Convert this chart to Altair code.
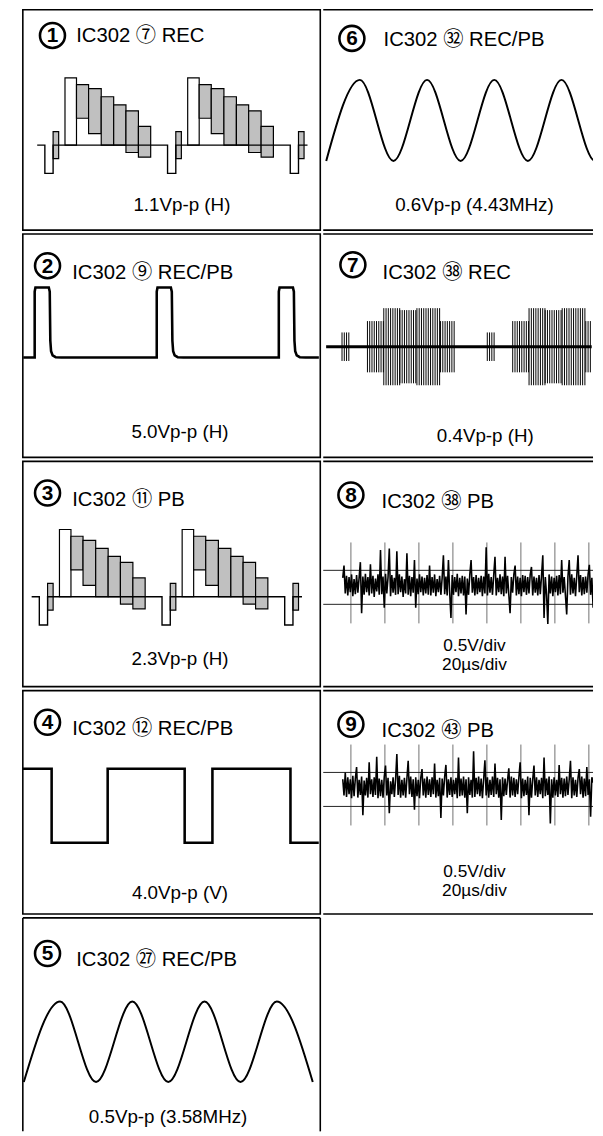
import altair as alt
import numpy as np
import pandas as pd

FONT = "Liberation Sans, Arial, Noto Sans CJK JP, DejaVu Sans"
STIPPLE = "#c0c0c0"

# ---------------- data ----------------
# Panels 1 and 3: colour-bar line signal (time in µs, level in IRE)
cb_line_starts = [0, 64, 128]
cb_picture_lines = [0, 64]
cb_sync_end = 4.3
cb_sync_level = -42
cb_burst_end = 7.2
cb_burst_level = 20
cb_white_start, cb_white_end, cb_white_level = 10.5, 16.5, 100
cb_bar_edges = [16.5, 22.8, 29.4, 35.9, 42.3, 48.8, 55.2]
cb_bar_top = [90, 84, 72, 60, 51, 28]
cb_bar_bottom = [40, 17, 0, 0, -11, -18]
cb_trace = [-4.0, 137.0]

# Panel 2: H-rate pulse (µs, V)
hp_starts = [0, 64, 128]
hp_shape_t = [0, 0, 0.4, 7.4, 7.9, 8.2, 8.6, 9.4, 11.0, 14.0]
hp_shape_v = [0, 4.7, 5.0, 5.0, 4.7, 1.2, 0.45, 0.15, 0.03, 0]
hp_trace = [-6.0, 149.0]

# Panel 4: V-rate square wave (ms, V)
vs_t = [0, 5.5, 5.5, 16.2, 16.2, 30.9, 30.9, 36.2, 36.2, 51.1, 51.1, 56.5]
vs_v = [4, 4, 0, 0, 4, 4, 0, 0, 4, 4, 0, 0]

# Panel 5: 3.58 MHz sine, extremes (ns, V)
s5_t = [0, 140, 279, 419, 558, 698, 837, 977, 1116]
s5_v = [-0.25, 0.25, -0.25, 0.25, -0.25, 0.25, -0.25, 0.25, -0.25]

# Panel 6: 4.43 MHz sine, extremes (ns, V)
s6_t = [0, 113, 226, 339, 452, 565, 678, 791, 904, 1017]
s6_v = [-0.3, 0.3, -0.3, 0.3, -0.3, 0.3, -0.3, 0.3, -0.3, 0.3]

# Panel 7: chroma bursts (µs, V)
b7_line_starts = [0, 64]
b7_seg_start = [0.0, 11.2, 18.4, 25.5, 33.0, 43.4]
b7_seg_end = [3.2, 18.4, 25.5, 33.0, 43.4, 50.4]
b7_seg_amp = [0.074, 0.133, 0.2, 0.19, 0.2, 0.133]
b7_cycle = 1.0
b7_trace = [-7.0, 110.0]

# Panels 8 and 9: noise on 0.5 V/div, 20 µs/div graticule
grid_t = [0, 20, 40, 60, 80, 100, 120, 140]
grid_top, grid_bottom = 0.66, -0.53
ref_levels = [0.25, -0.25]
n8_span = [-4.8, 142.5]
n8_mv = [140, 320, -90, 170, -120, 150, -70, 190, -130, 120,
         -100, 180, -80, 140, 370, -380, 160, -110, 200, -70,
         150, -120, 340, -90, 170, -140, 130, -60, 190, -110,
         550, -100, 160, -300, 200, -90, 150, 570, -130, 180,
         -80, 140, -110, 530, -100, 190, -70, 160, -140, 120,
         -90, 500, -110, 170, -130, 150, -80, 400, -300, 130,
         -100, 190, -70, 160, -120, 140, -90, 180, -110, 320,
         -120, 150, -80, 190, -130, 120, -70, 170, -110, 140,
         470, -100, 160, -120, 400, -80, -450, 180, -110, 150,
         -70, 200, -130, 140, -90, 170, -120, 160, -400, 130,
         -110, 190, 400, -80, 150, -120, 180, -100, 140, -70,
         170, -130, 160, -90, 590, -120, 200, -80, 150, -110,
         180, 450, -120, 140, -70, 190, -100, 160, -130, 450,
         -90, 170, -110, -380, 150, -80, 190, 320, -120, 160,
         -100, 140, -130, 180, -70, 170, -110, 150, -90, 190,
         300, -120, 160, -80, 140, -120, 180, -100, 170, 470,
         -450, 150, -110, -540, 190, -90, 160, -130, 140, -70,
         170, -120, 180, -100, 400, -80, 150, -120, -400, 160,
         400, -110, 190, -90, 140, -130, 170, 470, -70, 180,
         -120, 150, -100, 160, -80, 190, 330, -110, 140, -300]
n9_span = [-4.8, 142.5]
n9_mv = [150, -90, 250, -110, 180, -70, 150, -130, 200, -100,
         160, 330, -120, 140, -80, 190, -380, 130, -90, 170,
         -120, 400, -70, 150, -110, 180, -80, 480, -130, 160,
         -100, 140, -120, 190, 350, -90, 170, -350, 120, -70,
         180, -110, 150, 520, -80, 200, -120, 140, -90, 170,
         -120, 160, 420, -70, 190, -110, 150, -300, 180, -100,
         140, -130, 170, 300, -90, 160, -120, 190, -80, 150,
         -110, 180, -70, 380, -120, 140, -100, 170, -420, 160,
         -90, 190, 360, -120, 150, -80, 180, -110, 140, -70,
         170, -130, 470, -100, 160, -90, 190, -120, 150, -350,
         180, -80, 140, -120, 560, -110, 170, -70, 190, -100,
         160, -130, 150, 430, -90, 180, -120, 140, -80, 190,
         -110, 380, -70, 170, -120, 150, -450, 180, -100, 160,
         -80, 140, 310, -120, 190, -90, 170, -110, 150, -70,
         180, 400, -130, 160, -100, 140, -80, 190, -380, 170,
         -120, 150, 350, -90, 180, -110, 140, -70, 170, -130,
         470, -100, 160, -80, 190, -500, 150, -120, 180, -90,
         140, -110, 360, -70, 170, -120, 160, -100, 190, -80,
         150, 420, -130, 180, -90, 140, -110, 170, 300, -70,
         190, -120, 160, -100, 330, -80, 150, -400, 180, 100]

# ---------------- layout ----------------
LX, RX = 21, 322
LW, RW = 301, 273
TOPS = [9, 232, 458, 686, 912]
HS = [223, 226, 228, 226, 216]
BORDER = 1.6


def lin(lo, hi):
    return alt.Scale(domain=[lo, hi], nice=False, zero=False)


def xscale(t0_abs, k, left, W):
    return lin((left - t0_abs) / k, (left + W - t0_abs) / k)


def yscale(y0_abs, k, top, H):
    return lin((y0_abs - top - H) / k, (y0_abs - top) / k)


ONE = pd.DataFrame({"k": [0]})


def header(left, top, num, label, cxy, txy):
    cx, cy = cxy[0] - left, cxy[1] - top
    tx, ty = txy[0] - left, txy[1] - top
    ring = alt.Chart(ONE).mark_point(shape="circle", filled=False, size=640, stroke="black",
                                     strokeWidth=2.6, opacity=1).encode(x=alt.value(cx), y=alt.value(cy))
    digit = alt.Chart(ONE).mark_text(text=num, font=FONT, fontSize=21, fontWeight="bold", align="center",
                                     baseline="middle", color="black").encode(x=alt.value(cx), y=alt.value(cy + 1))
    title = alt.Chart(ONE).mark_text(text=label, font=FONT, fontSize=20.5, align="left", baseline="alphabetic",
                                     color="black").encode(x=alt.value(tx), y=alt.value(ty))
    return [ring, digit, title]


def caption(left, top, text, cx_abs, base_abs, size=19):
    return alt.Chart(ONE).mark_text(text=text, font=FONT, fontSize=size, align="center", baseline="alphabetic",
                                    color="black").encode(x=alt.value(cx_abs - left), y=alt.value(base_abs - top))


def hrule(y, W):
    return alt.Chart(ONE).mark_rule(color="black", strokeWidth=BORDER).encode(
        x=alt.value(0), x2=alt.value(W), y=alt.value(y))


def vrule(x, H):
    return alt.Chart(ONE).mark_rule(color="black", strokeWidth=BORDER).encode(
        x=alt.value(x), y=alt.value(0), y2=alt.value(H))


def frame_full(layers, H):
    return alt.layer(*layers).properties(
        width=LW, height=H,
        view=alt.ViewBackground(stroke="black", strokeWidth=BORDER, fill="white"))


def frame_right(layers, H):
    # right column runs off the page: only top and bottom edges are visible
    return alt.layer(*(layers + [hrule(0, RW), hrule(H, RW)])).properties(
        width=RW, height=H,
        view=alt.ViewBackground(stroke="transparent", fill="white"))


def frame_open_bottom(layers, H):
    return alt.layer(*(layers + [hrule(0, LW), vrule(0, H), vrule(LW, H)])).properties(
        width=LW, height=H,
        view=alt.ViewBackground(stroke="transparent", fill="white"))


def path_layer(df, xs, ys, width):
    return alt.Chart(df).mark_line(color="black", strokeWidth=width, clip=True, strokeJoin="miter").encode(
        x=alt.X("x:Q", scale=xs, axis=None), y=alt.Y("y:Q", scale=ys, axis=None), order="i:Q")


# ---------- panel builders ----------
def colour_bar_layers(left, top, H, t0_abs, base_abs):
    xs = xscale(t0_abs, 1.94, left, LW)
    ys = yscale(base_abs, 0.68, top, H)
    pts = [(cb_trace[0], 0)]
    for s in cb_line_starts:
        pts += [(s, 0), (s, cb_sync_level), (s + cb_sync_end, cb_sync_level), (s + cb_sync_end, 0)]
    pts.append((cb_trace[1], 0))
    trace = pd.DataFrame({"x": [p[0] for p in pts], "y": [p[1] for p in pts], "i": range(len(pts))})
    rects = []
    for s in cb_line_starts:
        rects.append((s + cb_sync_end, s + cb_burst_end, -cb_burst_level, cb_burst_level, "s"))
    for s in cb_picture_lines:
        rects.append((s + cb_white_start, s + cb_white_end, 0, cb_white_level, "w"))
        for j in range(len(cb_bar_top)):
            rects.append((s + cb_bar_edges[j], s + cb_bar_edges[j + 1], cb_bar_bottom[j], cb_bar_top[j], "s"))
    rdf = pd.DataFrame(rects, columns=["x", "x2", "y", "y2", "kind"])
    boxes = alt.Chart(rdf).mark_rect(stroke="black", strokeWidth=1.2, clip=True).encode(
        x=alt.X("x:Q", scale=xs, axis=None), x2="x2:Q",
        y=alt.Y("y:Q", scale=ys, axis=None), y2="y2:Q",
        fill=alt.Fill("kind:N", scale=alt.Scale(domain=["s", "w"], range=[STIPPLE, "white"]), legend=None))
    return [boxes, path_layer(trace, xs, ys, 1.4)]


def pulse_layers(left, top, H):
    xs = xscale(33, 1.93, left, LW)
    ys = yscale(357, 14.2, top, H)
    pts = [(hp_trace[0], 0)]
    for s in hp_starts:
        pts += [(s + t, v) for t, v in zip(hp_shape_t, hp_shape_v)]
    pts.append((hp_trace[1], 0))
    df = pd.DataFrame({"x": [p[0] for p in pts], "y": [p[1] for p in pts], "i": range(len(pts))})
    return [path_layer(df, xs, ys, 2.6)]


def square_layers(left, top, H):
    xs = xscale(21, 5.3, left, LW)
    ys = yscale(840, 18.75, top, H)
    df = pd.DataFrame({"x": vs_t, "y": vs_v, "i": range(len(vs_t))})
    return [path_layer(df, xs, ys, 2.6)]


def sine_layer(ts, vs, xs, ys):
    df = pd.DataFrame({"x": ts, "y": vs})
    return alt.Chart(df).mark_line(color="black", strokeWidth=2.0, interpolate="monotone", clip=True).encode(
        x=alt.X("x:Q", scale=xs, axis=None), y=alt.Y("y:Q", scale=ys, axis=None))


def burst_layers(left, top, H):
    xs = xscale(341, 2.297, left, RW)
    ys = yscale(346, 195, top, H)
    rows = []
    for s in b7_line_starts:
        for a, b, amp in zip(b7_seg_start, b7_seg_end, b7_seg_amp):
            for t in np.arange(a, b, b7_cycle):
                if s + t <= b7_trace[1]:
                    rows.append((s + t, -amp, amp))
    df = pd.DataFrame(rows, columns=["x", "y", "y2"])
    bars = alt.Chart(df).mark_rule(color="black", strokeWidth=1.0, clip=True).encode(
        x=alt.X("x:Q", scale=xs, axis=None), y=alt.Y("y:Q", scale=ys, axis=None), y2="y2:Q")
    base = pd.DataFrame({"x": [b7_trace[0]], "x2": [b7_trace[1]], "y": [0]})
    axis_line = alt.Chart(base).mark_rule(color="black", strokeWidth=3.2, clip=True).encode(
        x=alt.X("x:Q", scale=xs, axis=None), x2="x2:Q", y=alt.Y("y:Q", scale=ys, axis=None))
    return [bars, axis_line]


def noise_layers(left, top, H, center_abs, span, mv):
    xs = xscale(350, 1.72, left, RW)
    ys = yscale(center_abs, 68.8, top, H)
    g = pd.DataFrame({"x": grid_t, "y": [grid_bottom] * len(grid_t), "y2": [grid_top] * len(grid_t)})
    vgrid = alt.Chart(g).mark_rule(color="#707070", strokeWidth=1.0, clip=True).encode(
        x=alt.X("x:Q", scale=xs, axis=None), y=alt.Y("y:Q", scale=ys, axis=None), y2="y2:Q")
    h = pd.DataFrame({"y": ref_levels})
    hgrid = alt.Chart(h).mark_rule(color="#222222", strokeWidth=1.0).encode(
        y=alt.Y("y:Q", scale=ys, axis=None))
    ts = np.linspace(span[0], span[1], len(mv))
    df = pd.DataFrame({"x": ts, "y": np.array(mv) / 1000.0, "i": range(len(mv))})
    trace = path_layer(df, xs, ys, 1.6)
    return [vgrid, hgrid, trace]


# ---------- panels ----------
t = TOPS
p1 = frame_full(colour_bar_layers(LX, t[0], HS[0], 43.3, 146)
                + header(LX, t[0], "1", "IC302 \u2466 REC", (51, 35), (75, 42))
                + [caption(LX, t[0], "1.1Vp-p (H)", 182, 213)], HS[0])

p2 = frame_full(pulse_layers(LX, t[1], HS[1])
                + header(LX, t[1], "2", "IC302 \u2468 REC/PB", (46, 264), (71, 277))
                + [caption(LX, t[1], "5.0Vp-p (H)", 180, 438)], HS[1])

p3 = frame_full(colour_bar_layers(LX, t[2], HS[2], 37.7, 595)
                + header(LX, t[2], "3", "IC302 \u246a PB", (46, 490), (71, 503))
                + [caption(LX, t[2], "2.3Vp-p (H)", 180, 664)], HS[2])

p4 = frame_full(square_layers(LX, t[3], HS[3])
                + header(LX, t[3], "4", "IC302 \u246b REC/PB", (46, 718), (71, 731))
                + [caption(LX, t[3], "4.0Vp-p (V)", 180, 897)], HS[3])

xs5 = xscale(22, 0.262, LX, LW)
ys5 = yscale(1037.3, 163, t[4], HS[4])
p5 = frame_open_bottom([sine_layer(s5_t, s5_v, xs5, ys5)]
                       + header(LX, t[4], "5", "IC302 \u3257 REC/PB", (46, 948), (75, 961))
                       + [caption(LX, t[4], "0.5Vp-p (3.58MHz)", 168, 1120)], HS[4])

xs6 = xscale(325, 0.301, RX, RW)
ys6 = yscale(121, 136.7, t[0], HS[0])
p6 = frame_right([sine_layer(s6_t, s6_v, xs6, ys6)]
                 + header(RX, t[0], "6", "IC302 \u325c REC/PB", (351, 38), (383, 46))
                 + [caption(RX, t[0], "0.6Vp-p (4.43MHz)", 475, 213)], HS[0])

p7 = frame_right(burst_layers(RX, t[1], HS[1])
                 + header(RX, t[1], "7", "IC302 \u32b3  REC", (352, 263), (382, 277))
                 + [caption(RX, t[1], "0.4Vp-p (H)", 486, 442)], HS[1])

p8 = frame_right(noise_layers(RX, t[2], HS[2], 585.5, n8_span, n8_mv)
                 + header(RX, t[2], "8", "IC302 \u32b3 PB", (350, 492), (381, 505))
                 + [caption(RX, t[2], "0.5V/div", 475, 650, 17.5),
                    caption(RX, t[2], "20\u00b5s/div", 475, 669, 17.5)],
                 HS[2])

p9 = frame_right(noise_layers(RX, t[3], HS[3], 786, n9_span, n9_mv)
                 + header(RX, t[3], "9", "IC302 \u32b8 PB", (350, 720), (381, 733))
                 + [caption(RX, t[3], "0.5V/div", 475, 875, 17.5),
                    caption(RX, t[3], "20\u00b5s/div", 475, 894, 17.5)],
                 HS[3])

chart = alt.vconcat(
    alt.hconcat(p1, p6, spacing=0),
    alt.hconcat(p2, p7, spacing=0),
    alt.hconcat(p3, p8, spacing=0),
    alt.hconcat(p4, p9, spacing=0),
    p5,
    spacing=0,
).properties(
    padding={"left": 13, "top": -7, "right": 0, "bottom": 0},
    background="white",
)

chart.save("out.html", embed_options={"renderer": "svg", "actions": False})
